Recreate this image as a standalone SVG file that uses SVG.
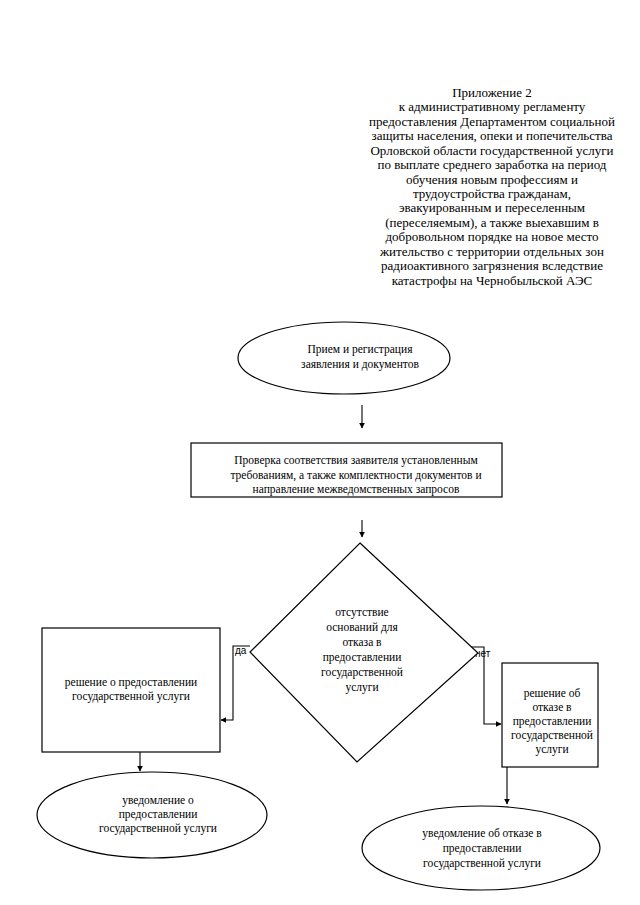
<svg xmlns="http://www.w3.org/2000/svg" width="640" height="905" viewBox="0 0 640 905">
<style>
.hd{font-family:"Liberation Serif","Times New Roman",serif;font-size:13px;fill:#000;text-anchor:middle}
.t{font-family:"Liberation Serif","Times New Roman",serif;font-size:11.5px;fill:#000;text-anchor:middle}
.lb{font-family:"Liberation Sans",Arial,sans-serif;font-size:10px;fill:#000}
.sh{fill:#fff;stroke:#000;stroke-width:1.2}
.c{fill:none;stroke:#000;stroke-width:1.1}
</style>
<defs>
<marker id="ah" viewBox="0 0 10 10" refX="9" refY="5" markerWidth="6" markerHeight="6" orient="auto" markerUnits="userSpaceOnUse">
<path d="M0,0 L10,5 L0,10 z" fill="#000"/>
</marker>
</defs>
<rect width="640" height="905" fill="#fff"/>
<g id="header">
<text class="hd" x="492" y="97">Приложение 2</text>
<text class="hd" x="492" y="111.4">к административному регламенту</text>
<text class="hd" x="492" y="125.9">предоставления Департаментом социальной</text>
<text class="hd" x="492" y="140.3">защиты населения, опеки и попечительства</text>
<text class="hd" x="492" y="154.7">Орловской области государственной услуги</text>
<text class="hd" x="492" y="169.2">по выплате среднего заработка на период</text>
<text class="hd" x="492" y="183.6">обучения новым профессиям и</text>
<text class="hd" x="492" y="198">трудоустройства гражданам,</text>
<text class="hd" x="492" y="212.4">эвакуированным и переселенным</text>
<text class="hd" x="492" y="226.9">(переселяемым), а также выехавшим в</text>
<text class="hd" x="492" y="241.3">добровольном порядке на новое место</text>
<text class="hd" x="492" y="255.7">жительство с территории отдельных зон</text>
<text class="hd" x="492" y="270.2">радиоактивного загрязнения вследствие</text>
<text class="hd" x="492" y="284.6">катастрофы на Чернобыльской АЭС</text>
</g>
<g id="connectors">
<line class="c" x1="362" y1="405" x2="362" y2="428" marker-end="url(#ah)"/>
<line class="c" x1="362" y1="520" x2="362" y2="537" marker-end="url(#ah)"/>
<polyline class="c" points="250,646 233,646 233,720 221,720" marker-end="url(#ah)"/>
<polyline class="c" points="465,647 484,647 484,724 501,724" marker-end="url(#ah)"/>
<line class="c" x1="140" y1="752" x2="140" y2="771" marker-end="url(#ah)"/>
<line class="c" x1="507" y1="767" x2="507" y2="804" marker-end="url(#ah)"/>
<text class="lb" x="235" y="654">да</text>
<text class="lb" x="475" y="657">нет</text>
</g>
<g id="n1">
<ellipse class="sh" cx="344" cy="358" rx="106" ry="36"/>
<text class="t" x="360" y="353">Прием и регистрация</text>
<text class="t" x="360" y="368">заявления и документов</text>
</g>
<g id="n2">
<rect class="sh" x="191" y="443" width="311" height="54"/>
<text class="t" x="356" y="464">Проверка соответствия заявителя установленным</text>
<text class="t" x="356" y="479">требованиям, а также комплектности документов и</text>
<text class="t" x="356" y="493">направление межведомственных запросов</text>
</g>
<g id="n3">
<polygon class="sh" points="360,543 478,653 357,762 250,652"/>
<text class="t" x="362" y="616">отсутствие</text>
<text class="t" x="362" y="631">оснований для</text>
<text class="t" x="362" y="646">отказа в</text>
<text class="t" x="362" y="661">предоставлении</text>
<text class="t" x="362" y="676">государственной</text>
<text class="t" x="362" y="691">услуги</text>
</g>
<g id="n4">
<rect class="sh" x="42" y="628" width="178" height="124"/>
<text class="t" x="131" y="686">решение о предоставлении</text>
<text class="t" x="131" y="700">государственной услуги</text>
</g>
<g id="n5">
<rect class="sh" x="502" y="663" width="96" height="104"/>
<text class="t" x="552" y="697">решение об</text>
<text class="t" x="552" y="711">отказе в</text>
<text class="t" x="552" y="725">предоставлении</text>
<text class="t" x="552" y="739">государственной</text>
<text class="t" x="552" y="753">услуги</text>
</g>
<g id="n6">
<ellipse class="sh" cx="152" cy="815" rx="115" ry="43"/>
<text class="t" x="158" y="804">уведомление о</text>
<text class="t" x="158" y="818">предоставлении</text>
<text class="t" x="158" y="832">государственной услуги</text>
</g>
<g id="n7">
<ellipse class="sh" cx="481" cy="848" rx="119" ry="42"/>
<text class="t" x="482" y="837">уведомление об отказе в</text>
<text class="t" x="482" y="852">предоставлении</text>
<text class="t" x="482" y="867">государственной услуги</text>
</g>
</svg>
